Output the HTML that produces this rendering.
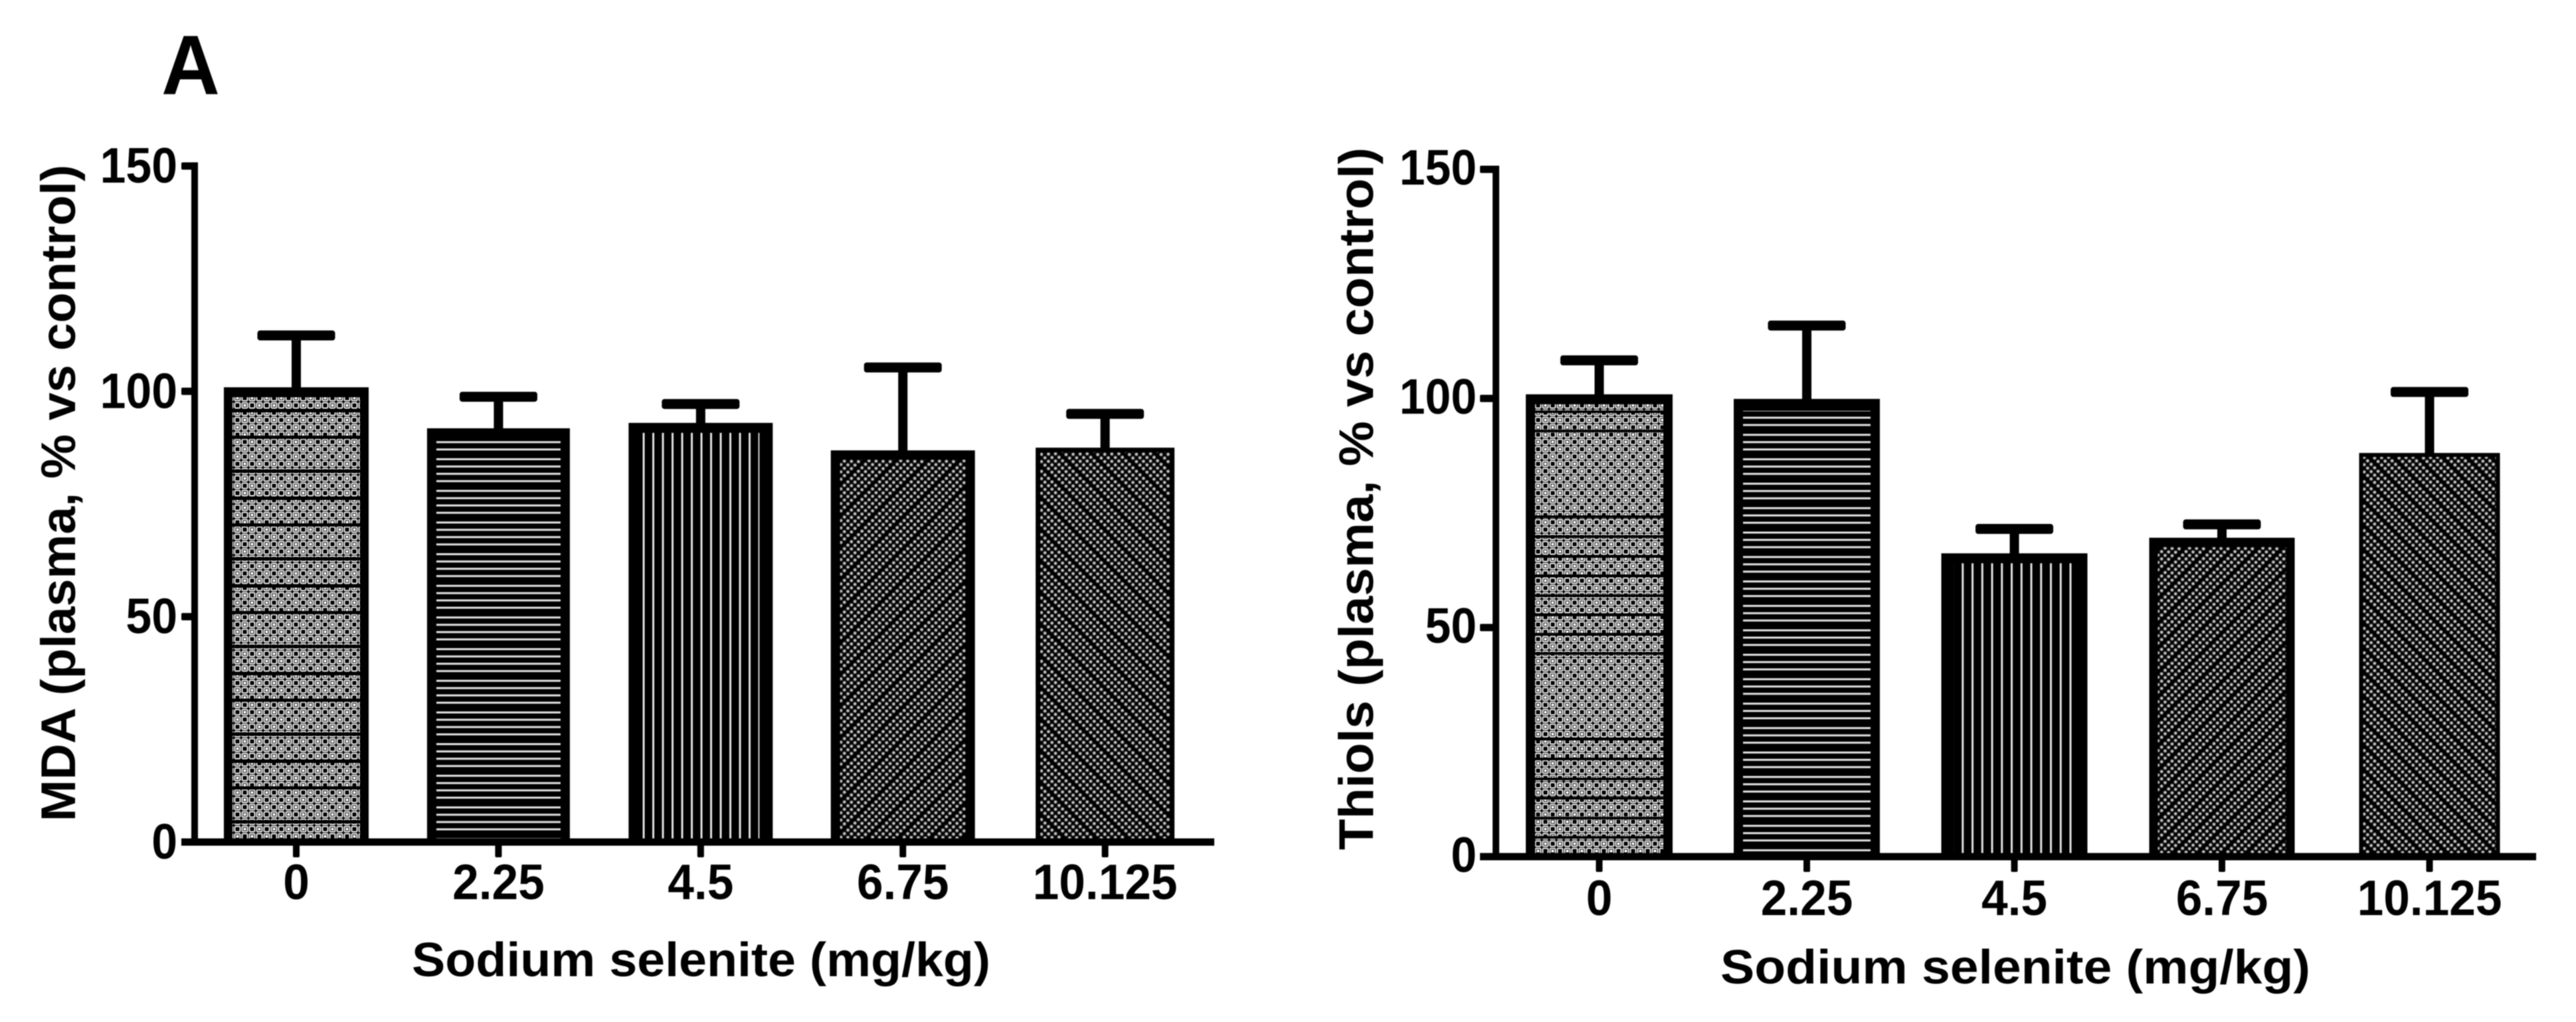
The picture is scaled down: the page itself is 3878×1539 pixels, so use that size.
<!DOCTYPE html>
<html lang="en">
<head>
<meta charset="utf-8">
<title>Sodium selenite plasma MDA and thiols</title>
<style>
  html, body { margin: 0; padding: 0; background: #fff; width: 3878px; height: 1539px; overflow: hidden; }
  svg { display: block; filter: blur(0.7px); }
  text { font-family: "Liberation Sans", Arial, sans-serif; font-weight: 700; fill: #000; }
</style>
</head>
<body>
<svg id="figure" xmlns="http://www.w3.org/2000/svg" width="3878" height="1539" viewBox="0 0 3878 1539">
  <defs id="defs">
    <pattern id="hlines-left" patternUnits="userSpaceOnUse" width="10" height="47.67" patternTransform="translate(0 690)">
      <rect width="10" height="47.67" fill="#000"/>
      <rect y="0" width="10" height="3" fill="#e4e4e4"/>
      <rect y="11" width="10" height="3" fill="#e4e4e4"/>
      <rect y="22" width="10" height="3" fill="#e4e4e4"/>
      <rect y="33" width="10" height="3" fill="#e4e4e4"/>
    </pattern>
    <pattern id="hlines-right" patternUnits="userSpaceOnUse" width="10" height="36.8" patternTransform="translate(0 616.5)">
      <rect width="10" height="36.8" fill="#000"/>
      <rect y="0" width="10" height="3" fill="#e4e4e4"/>
      <rect y="11" width="10" height="3" fill="#e4e4e4"/>
      <rect y="22" width="10" height="3" fill="#e4e4e4"/>
    </pattern>
    <pattern id="vlines-left" patternUnits="userSpaceOnUse" width="14.5" height="10" patternTransform="translate(967.5 0)">
      <rect width="14.5" height="10" fill="#000"/>
      <rect x="0" width="3" height="10" fill="#e4e4e4"/>
    </pattern>
    <pattern id="vlines-right" patternUnits="userSpaceOnUse" width="14.75" height="10" patternTransform="translate(2938.5 0)">
      <rect width="14.75" height="10" fill="#000"/>
      <rect x="0" width="3" height="10" fill="#e4e4e4"/>
    </pattern>
    <pattern id="bands-left" patternUnits="userSpaceOnUse" width="10" height="132" patternTransform="translate(0 920)">
      <rect y="0" width="10" height="5" fill="#000"/>
      <rect y="51" width="10" height="5" fill="#000"/>
      <rect y="92" width="10" height="5" fill="#000"/>
    </pattern>
    <pattern id="bands-right" patternUnits="userSpaceOnUse" width="10" height="335" patternTransform="translate(0 647)">
      <rect y="0" width="10" height="4" fill="#000"/>
      <rect y="129" width="10" height="4" fill="#000"/>
      <rect y="159" width="10" height="4" fill="#000"/>
      <rect y="189" width="10" height="4" fill="#000"/>
      <rect y="218" width="10" height="4" fill="#000"/>
      <rect y="248" width="10" height="4" fill="#000"/>
      <rect y="277" width="10" height="4" fill="#000"/>
      <rect y="306" width="10" height="4" fill="#000"/>
    </pattern>
  </defs>

  <text x="243" y="142" font-size="127" textLength="88" lengthAdjust="spacingAndGlyphs">A</text>

  <g id="chart-mda">
    <text transform="translate(113 1237) rotate(-90)" font-size="73" textLength="989" lengthAdjust="spacingAndGlyphs">MDA (plasma, % vs control)</text>
    <text x="620" y="1470" font-size="72" textLength="871" lengthAdjust="spacingAndGlyphs">Sodium selenite (mg/kg)</text>
  </g>

  <g id="chart-thiols">
    <text transform="translate(2067 1280) rotate(-90)" font-size="73" textLength="1058" lengthAdjust="spacingAndGlyphs">Thiols (plasma, % vs control)</text>
    <text x="2590" y="1481" font-size="72" textLength="888" lengthAdjust="spacingAndGlyphs">Sodium selenite (mg/kg)</text>
  </g>
</svg>

<script>
const categories = ['0', '2.25', '4.5', '6.75', '10.125'];
const yTickValues = [0, 50, 100, 150];
const mdaMeans = [100.9, 91.8, 93.0, 86.9, 87.5];
const mdaErrors = [12.6, 8.1, 5.3, 19.5, 8.6];
const thiolMeans = [100.9, 99.9, 66.2, 69.6, 88.1];
const thiolErrors = [8.5, 17.1, 6.4, 4.0, 14.4];

const SVG_NS = 'http://www.w3.org/2000/svg';
const defs = document.getElementById('defs');

function make(tag, attrs, parent) {
  const node = document.createElementNS(SVG_NS, tag);
  for (const key in attrs) node.setAttribute(key, attrs[key]);
  if (parent) parent.appendChild(node);
  return node;
}

/* hatch textures */
function addDiagonalPattern(id, period, lineCount, rising) {
  const p = make('pattern', { id: id, patternUnits: 'userSpaceOnUse', width: period, height: period }, defs);
  
  
  make('rect', { width: period, height: period, fill: '#000' }, p);
  const steps = Math.round(period / 5.4);
  const step = period / steps;
  for (let l = 0; l < lineCount; l++) {
    for (let k = -1; k <= steps; k++) {
      const x = k * step;
      const raw = rising ? l * 11 - x : l * 11 + x;
      const y = ((raw % period) + period) % period;
      [-period, 0, period].forEach(function (oy) {
        make('circle', { cx: x, cy: y + oy, r: 2.8, fill: '#7c7c7c' }, p);
        make('circle', { cx: x, cy: y + oy, r: 1.4, fill: '#dedede' }, p);
      });
    }
  }
}
addDiagonalPattern('diag-up-left', 47.67, 4, true);
addDiagonalPattern('diag-down-left', 47.67, 4, false);
addDiagonalPattern('diag-up-right', 36.8, 3, true);
addDiagonalPattern('diag-down-right', 36.8, 3, false);

(function addDotGrid() {
  const size = 22;
  const p = make('pattern', { id: 'dot-grid', patternUnits: 'userSpaceOnUse', width: size, height: size }, defs);
  
  
  make('rect', { width: size, height: size, fill: '#000' }, p);
  for (let i = 0; i < 2; i++) {
    for (let j = 0; j < 2; j++) {
      const x = i * 11, y = j * 11;
      make('rect', { x: x + 1.5, y: y + 1.5, width: 8, height: 8, rx: 1.5, fill: 'none', stroke: '#ededed', 'stroke-width': 2 }, p);
      if ((i + j) % 2 === 0) make('rect', { x: x + 3.5, y: y + 3.5, width: 4, height: 4, fill: '#fff' }, p);
    }
  }
})();

function drawChart(config) {
  const root = document.getElementById(config.rootId);
  const prefix = config.prefix;
  const xOf = function (i) { return config.x0 + config.xStep * i; };
  const yOf = function (v) { return config.y0 - config.yScale * v; };

  /* bars */
  config.means.forEach(function (mean, i) {
    const style = config.barStyles[i];
    const cx = xOf(i);
    const left = cx - style.width / 2;
    const top = yOf(mean);
    const bottom = config.y0;

    const capTop = yOf(mean + config.errors[i]);
    const stem = make('rect', { x: cx - 7, y: capTop + 5, width: 14, height: top - capTop, fill: '#000' }, root);
    
    

    const cap = make('rect', { x: cx - 58.5, y: capTop, width: 117, height: 15, rx: 4, fill: '#000' }, root);
    
    

    const bar = make('rect', { x: left, y: top, width: style.width, height: bottom - top, fill: '#000' }, root);
    
    

    const fill = make('rect', {
      x: left + style.inset,
      y: top + style.topInset,
      width: style.width - 2 * style.inset,
      height: bottom - top - style.topInset,
      fill: 'url(#' + style.pattern + ')'
    }, root);
    
    

    if (style.bands) {
      const bands = make('rect', {
        x: left + style.inset,
        y: top + style.topInset,
        width: style.width - 2 * style.inset,
        height: bottom - top - style.topInset,
        fill: 'url(#' + style.bands + ')'
      }, root);
      
      
    }
  });

  /* axes */
  const yAxis = make('rect', { x: config.axisX - 5, y: yOf(150) - 5.5, width: 10, height: config.yScale * 150 + 11, fill: '#000' }, root);
  
  

  const xAxis = make('rect', { x: config.axisStart, y: config.y0 - 5.5, width: config.axisEnd - config.axisStart, height: 11, fill: '#000' }, root);
  
  

  yTickValues.forEach(function (v) {
    const tick = make('rect', { x: config.axisStart, y: yOf(v) - 5.5, width: config.axisX - config.axisStart, height: 11, rx: 2, fill: '#000' }, root);
    
    

    const label = make('text', {
      transform: 'translate(' + config.yLabelRight + ' ' + (yOf(v) + config.yLabelDrop) + ') scale(0.93 1)',
      'text-anchor': 'end',
      'font-size': 75
    }, root);
    label.textContent = String(v);
    
    
  });

  categories.forEach(function (c, i) {
    const tick = make('rect', { x: xOf(i) - 5, y: config.y0, width: 10, height: 23, rx: 2, fill: '#000' }, root);
    
    

    const label = make('text', {
      transform: 'translate(' + xOf(i) + ' ' + config.xLabelY + ') scale(0.95 1)',
      'text-anchor': 'middle',
      'font-size': 75
    }, root);
    label.textContent = c;
    
    
  });
}

drawChart({
  rootId: 'chart-mda',
  prefix: 'mda',
  means: mdaMeans,
  errors: mdaErrors,
  x0: 446, xStep: 304.4,
  y0: 1268, yScale: 6.787,
  axisX: 293, axisStart: 273, axisEnd: 1828,
  yLabelRight: 267, yLabelDrop: 25,
  xLabelY: 1354,
  barStyles: [
    { width: 218, inset: 13, topInset: 15, pattern: 'dot-grid', bands: 'bands-left' },
    { width: 215, inset: 14, topInset: 18, pattern: 'hlines-left' },
    { width: 217, inset: 20, topInset: 15, pattern: 'vlines-left' },
    { width: 217, inset: 14, topInset: 14, pattern: 'diag-up-left' },
    { width: 209, inset: 7, topInset: 7, pattern: 'diag-down-left' }
  ]
});

drawChart({
  rootId: 'chart-thiols',
  prefix: 'thiols',
  means: thiolMeans,
  errors: thiolErrors,
  x0: 2407.5, xStep: 312.5,
  y0: 1290, yScale: 6.9,
  axisX: 2252, axisStart: 2228, axisEnd: 3818,
  yLabelRight: 2223, yLabelDrop: 23,
  xLabelY: 1378,
  barStyles: [
    { width: 221, inset: 14, topInset: 15, pattern: 'dot-grid', bands: 'bands-right' },
    { width: 220, inset: 14, topInset: 18, pattern: 'hlines-right' },
    { width: 220, inset: 19, topInset: 15, pattern: 'vlines-right' },
    { width: 219, inset: 13, topInset: 14, pattern: 'diag-up-right' },
    { width: 212, inset: 6, topInset: 6, pattern: 'diag-down-right' }
  ]
});
</script>
</body>
</html>
